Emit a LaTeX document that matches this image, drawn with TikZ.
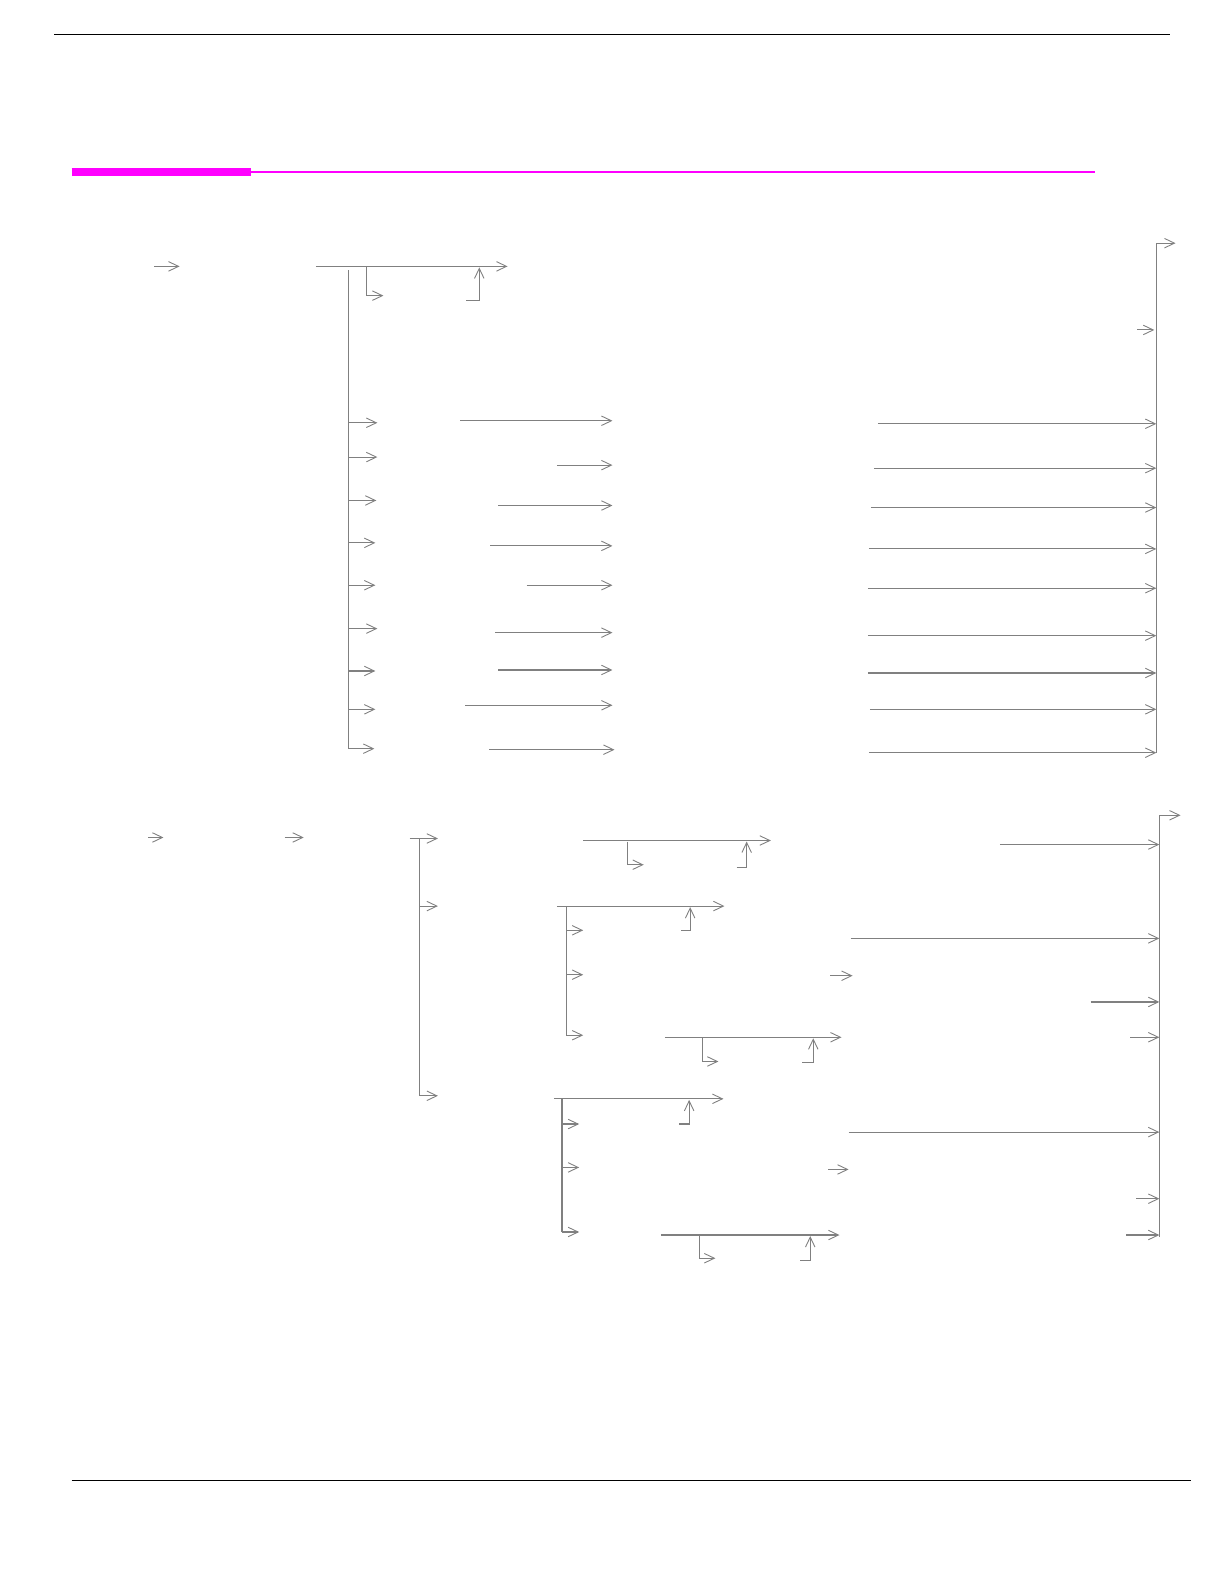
\documentclass[tikz,border=0pt]{standalone}
\usetikzlibrary{arrows.meta}
\definecolor{linegray}{RGB}{128,128,128}
\definecolor{barmag}{RGB}{255,0,255}
\tikzset{
  conn/.style={draw=linegray, line width=1.1pt},
  arr/.style={conn, -{Straight Barb[length=10pt,width=9.5pt,line width=0.9pt]}},
  rule/.style={draw=black, line width=1.4pt},
}
\begin{document}
\begin{tikzpicture}[x=1.009pt,y=-1.009pt]
\useasboundingbox (0pt,0pt) rectangle (1224pt,-1582pt);
% page rules
\coordinate (tl) at (54,34); \coordinate (tr) at (1160,34);
\draw[rule] (tl) -- (tr);
\coordinate (bl) at (71,1467); \coordinate (br) at (1180,1467);
\draw[rule] (bl) -- (br);
\coordinate (m0) at (71,170); \coordinate (m1) at (249,170); \coordinate (m2) at (1085,170);
\draw[barmag, line width=8pt] (m0) -- (m1);
\draw[barmag, line width=2pt] (m1) -- (m2);

% ================= upper section =================
\draw[arr] (153,264) -- (178,264);
\coordinate (h1a) at (313,264); \coordinate (h1b) at (503,264);
\draw[arr] (h1a) -- (h1b);
\draw[arr] (363,264) |- (380,293);
\draw[arr] (462,298) -| (475,265);
% left trunk
\coordinate (t1top) at (345,268);
\draw[conn] (t1top) -- (345,742);
\foreach \y/\e in {419/374,453/374,496/373,538/372,580/372,623/374,665/372,703/372}
  \draw[arr] (345,\y) -- (\e,\y);
\draw[arr] (345,742) -- (371,742);
% middle arrows
\foreach \s/\y in {456/417,552/461,494/501,486/541,522/580,491/627,494/664,461/699}
  \draw[arr] (\s,\y) -- (607,\y);
\draw[arr] (485,743) -- (609,743);
% right arrows into right trunk
\coordinate (rt1) at (1146,241);
\foreach \s/\y in {870/420,866/464,863/503,861/544,860/583,860/630,860/667,862/703,861/746}
  \draw[arr] (\s,\y) -- (1146,\y);
\draw[arr] (1127,327) -- (1144,327);
\draw[arr] (1146,746) -- (rt1) -- (1165,241);

% ================= lower section =================
\draw[arr] (147,830) -- (162,830);
\draw[arr] (282,830) -- (301,830);
\draw[arr] (406,831) -- (434,831);
\coordinate (t2top) at (416,831);
\draw[conn] (t2top) -- (416,1086);
\draw[arr] (416,898) -- (434,898);
\draw[arr] (416,1086) -- (434,1086);

% group A
\draw[arr] (578,833) -- (764,833);
\draw[arr] (622,834) |- (638,857);
\draw[arr] (730,860) -| (740,834);
\draw[arr] (991,837) -- (1149,837);

% group B
\draw[arr] (552,898) -- (718,898);
\draw[arr] (675,922) -| (684,899);
\draw[conn] (561,898) -- (561,1026);
\draw[arr] (561,922) -- (578,922);
\draw[arr] (561,966) -- (578,966);
\draw[arr] (561,1026) -- (578,1026);
\draw[arr] (843,930) -- (1149,930);
\draw[arr] (823,967) -- (845,967);
\draw[arr] (1081,993) -- (1149,993);
\draw[arr] (659,1028) -- (834,1028);
\draw[arr] (696,1029) |- (712,1052);
\draw[arr] (795,1053) -| (806,1029);
\draw[arr] (1120,1028) -- (1149,1028);

% group C
\draw[arr] (549,1089) -- (717,1089);
\draw[arr] (673,1114) -| (683,1090);
\draw[conn] (557,1089) -- (557,1221);
\draw[arr] (557,1114) -- (574,1114);
\draw[arr] (557,1157) -- (574,1157);
\draw[arr] (557,1221) -- (574,1221);
\draw[arr] (841,1122) -- (1149,1122);
\draw[arr] (821,1159) -- (841,1159);
\draw[arr] (1126,1188) -- (1149,1188);
\draw[arr] (655,1224) -- (832,1224);
\draw[arr] (693,1225) |- (709,1247);
\draw[arr] (793,1249) -| (803,1225);
\draw[arr] (1116,1224) -- (1149,1224);

% right trunk 2
\coordinate (rt2) at (1149,808);
\draw[arr] (1149,1226) -- (rt2) -- (1170,808);
\end{tikzpicture}
\end{document}
